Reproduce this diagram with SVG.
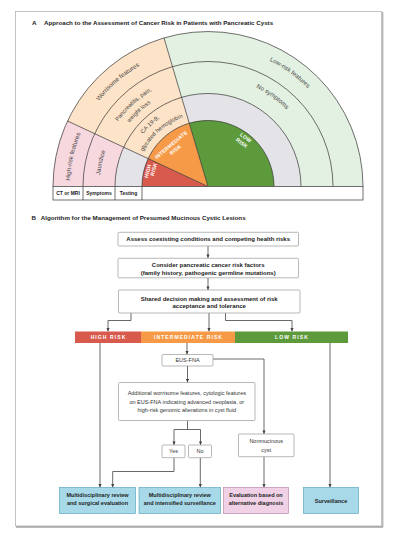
<svg xmlns="http://www.w3.org/2000/svg" width="402" height="540" viewBox="0 0 402 540">
<style>
text{font-family:"Liberation Sans",Arial,sans-serif;fill:#333}
.t{font-size:6.2px;font-weight:bold;fill:#222}
.ring{font-size:6.2px;fill:#444}
.ring2{font-size:5.8px;fill:#444}
.in{font-size:5.2px;font-weight:bold;fill:#fff;letter-spacing:0.2px}
.cell{font-size:5px;font-weight:bold;fill:#222}
.ln{fill:none;stroke:#333;stroke-width:0.7}
.bx{fill:#fff;stroke:#999;stroke-width:0.7}
.bb{font-size:6px;font-weight:bold;fill:#222}
.nb{font-size:5.5px;fill:#333}
.fb{font-size:5.5px;font-weight:bold;fill:#222}
.blue{fill:#a7d9e8;stroke:#5fa7bf;stroke-width:0.7}
.pink{fill:#f0d1e6;stroke:#b98aab;stroke-width:0.7}
.bar{font-size:5px;font-weight:bold;fill:#fff;letter-spacing:1.1px}
.c{fill:none;stroke:#444;stroke-width:0.8}
.ca{fill:none;stroke:#444;stroke-width:0.8;marker-end:url(#ah)}
</style>
<defs>
<marker id="ah" viewBox="0 0 6 6" refX="6" refY="3" markerWidth="3.6" markerHeight="3.6" orient="auto" markerUnits="userSpaceOnUse"><path d="M0,0.3 L6,3 L0,5.7 z" fill="#444"/></marker>
<path id="p-hr" d="M70,186.5 A138,138 0 0 1 82.93,128.18"/>
<path id="p-jd" d="M99.5,186.5 A108.5,108.5 0 0 1 109.67,140.65"/>
<path id="p-wf" d="M82.48,127.97 A138.5,138.5 0 0 1 168.67,53.70"/>
<path id="p-pp" d="M107.4,139.59 A111,111 0 0 1 176.48,80.07"/>
<path id="p-wl" d="M116.46,143.82 A101,101 0 0 1 179.32,89.66"/>
<path id="p-ca" d="M132.32,151.21 A83.5,83.5 0 0 1 184.29,106.44"/>
<path id="p-gh" d="M141.39,155.44 A73.5,73.5 0 0 1 187.13,116.03"/>
<path id="p-lr" d="M168.24,52.27 A140,140 0 0 1 348,186.5"/>
<path id="p-ns" d="M176.76,81.03 A110,110 0 0 1 318,186.5"/>
</defs>

<rect x="0" y="0" width="402" height="540" fill="#fff"/>
<g id="frame">
<rect x="15.5" y="11.5" width="366" height="514.5" fill="#fff" stroke="#b5b5b5" stroke-width="0.8"/>
<line x1="16" y1="527" x2="383" y2="527" stroke="#777" stroke-width="1.2"/>
<line x1="382.8" y1="12" x2="382.8" y2="527" stroke="#999" stroke-width="1"/>
</g>

<g id="titleA">
<text class="t" x="32" y="24.8">A</text>
<text class="t" x="44" y="24.8">Approach to the Assessment of Cancer Risk in Patients with Pancreatic Cysts</text>
</g>

<g id="chart">
<path d="M208,186.5 L53,186.5 A155,155 0 0 1 67.52,121 Z" fill="#f8d8df"/>
<path d="M208,186.5 L67.52,121 A155,155 0 0 1 163.98,37.89 Z" fill="#fde3c7"/>
<path d="M208,186.5 L163.98,37.89 A155,155 0 0 1 363,186.5 Z" fill="#e3f1e2"/>
<path d="M208,186.5 L115,186.5 A93,93 0 0 1 123.71,147.2 Z" fill="#e4e4e8"/>
<path d="M208,186.5 L181.59,97.33 A93,93 0 0 1 301,186.5 Z" fill="#e4e4e8"/>
<path d="M208,186.5 L142,186.5 A66,66 0 0 1 148.18,158.61 Z" fill="#d85a4c"/>
<path d="M208,186.5 L148.18,158.61 A66,66 0 0 1 189.26,123.22 Z" fill="#f69a47"/>
<path d="M208,186.5 L189.26,123.22 A66,66 0 0 1 274,186.5 Z" fill="#5c9a3b"/>
<path class="ln" d="M53,186.5 A155,155 0 0 1 363,186.5 M83,186.5 A125,125 0 0 1 333,186.5 M115,186.5 A93,93 0 0 1 301,186.5 M142,186.5 A66,66 0 0 1 274,186.5"/>
<path class="ln" d="M208,186.5 L67.52,121 M208,186.5 L163.98,37.89"/>
</g>

<g id="ring-labels">
<text class="ring"><textPath href="#p-hr" startOffset="50%" text-anchor="middle">High-risk features</textPath></text>
<text class="ring"><textPath href="#p-jd" startOffset="50%" text-anchor="middle">Jaundice</textPath></text>
<text class="ring"><textPath href="#p-wf" startOffset="50%" text-anchor="middle">Worrisome features</textPath></text>
<text class="ring2"><textPath href="#p-pp" startOffset="47%" text-anchor="middle">Pancreatitis, pain,</textPath></text>
<text class="ring2"><textPath href="#p-wl" startOffset="46%" text-anchor="middle">weight loss</textPath></text>
<text class="ring2"><textPath href="#p-ca" startOffset="45%" text-anchor="middle">CA 19-9,</textPath></text>
<text class="ring2"><textPath href="#p-gh" startOffset="50%" text-anchor="middle">glycated hemoglobin</textPath></text>
<text class="ring"><textPath href="#p-lr" startOffset="49%" text-anchor="middle">Low-risk features</textPath></text>
<text class="ring"><textPath href="#p-ns" startOffset="49%" text-anchor="middle">No symptoms</textPath></text>
</g>

<g id="risk-wedge-labels">
<text class="in" text-anchor="middle" transform="translate(149.6,171.5) rotate(-75)">HIGH</text>
<text class="in" text-anchor="middle" transform="translate(155.5,169.8) rotate(-75)">RISK</text>
<text class="in" text-anchor="middle" transform="translate(172.3,146.2) rotate(-40)">INTERMEDIATE</text>
<text class="in" text-anchor="middle" transform="translate(176.6,151.1) rotate(-40)">RISK</text>
<text class="in" text-anchor="middle" transform="translate(244.7,139.2) rotate(36)">LOW</text>
<text class="in" text-anchor="middle" transform="translate(240.9,144.5) rotate(36)">RISK</text>
</g>

<g id="table">
<rect x="53" y="186.5" width="310" height="13.5" fill="#fff" stroke="#333" stroke-width="0.7"/>
<path class="ln" d="M83,186.5 V200 M115,186.5 V200 M142,186.5 V200"/>
<text class="cell" x="68" y="195.3" text-anchor="middle">CT or MRI</text>
<text class="cell" x="99" y="195.3" text-anchor="middle">Symptoms</text>
<text class="cell" x="128.5" y="195.3" text-anchor="middle">Testing</text>
</g>

<g id="titleB">
<text class="t" x="31.5" y="220.2">B</text>
<text class="t" x="40.7" y="220.2">Algorithm for the Management of Presumed Mucinous Cystic Lesions</text>
</g>

<g id="connectors">
<path class="ca" d="M208,246 V258"/>
<path class="ca" d="M208,278 V290"/>
<path class="ca" d="M131,313 V320.5 H108 V331.5"/>
<path class="ca" d="M209,313 V331.5"/>
<path class="ca" d="M225.5,313 V320.5 H292 V331.5"/>
<path class="ca" d="M100,343 V487.5"/>
<path class="ca" d="M330,343 V487.5"/>
<path class="ca" d="M187,343 V354.5"/>
<path class="ca" d="M213,359 H264 V434"/>
<path class="ca" d="M187.5,366 V382.5"/>
<path class="c" d="M187.5,420.5 V429.5 M174,429.5 H200.5"/>
<path class="ca" d="M174,429.5 V445"/>
<path class="ca" d="M200.5,429.5 V445"/>
<path class="ca" d="M174,457.7 V471.5 H112.7 V487.5"/>
<path class="ca" d="M200.3,457.7 V487.5"/>
<path class="ca" d="M264,456.7 V487.5"/>
</g>

<g id="n-assess">
<rect class="bx" x="118" y="232.3" width="180.5" height="13.7" rx="1"/>
<text class="bb" x="208.2" y="241.2" text-anchor="middle">Assess coexisting conditions and competing health risks</text>
</g>
<g id="n-consider">
<rect class="bx" x="118" y="258.3" width="180.5" height="19.5" rx="1"/>
<text class="bb" x="208.2" y="267.2" text-anchor="middle">Consider pancreatic cancer risk factors</text>
<text class="bb" x="208.2" y="274.9" text-anchor="middle">(family history, pathogenic germline mutations)</text>
</g>
<g id="n-shared">
<rect class="bx" x="118.5" y="290" width="181.5" height="23" rx="1"/>
<text class="bb" x="209.2" y="300.5" text-anchor="middle">Shared decision making and assessment of risk</text>
<text class="bb" x="209.2" y="308.2" text-anchor="middle">acceptance and tolerance</text>
</g>

<g id="n-riskbar">
<rect x="75" y="331.5" width="66" height="11.5" fill="#d85a4c"/>
<rect x="141" y="331.5" width="94" height="11.5" fill="#f69a47"/>
<rect x="235" y="331.5" width="113" height="11.5" fill="#5c9a3b"/>
<text class="bar" x="108.5" y="339.2" text-anchor="middle">HIGH RISK</text>
<text class="bar" x="188.5" y="339.2" text-anchor="middle">INTERMEDIATE RISK</text>
<text class="bar" x="292" y="339.2" text-anchor="middle">LOW RISK</text>
</g>

<g id="n-eus">
<rect class="bx" x="162" y="354.5" width="51" height="11.5" rx="1"/>
<text class="nb" x="187.5" y="362.3" text-anchor="middle">EUS-FNA</text>
</g>
<g id="n-additional">
<rect class="bx" x="118.5" y="382.5" width="136.5" height="38" rx="1"/>
<text class="nb" x="186.8" y="395.3" text-anchor="middle">Additional worrisome features, cytologic features</text>
<text class="nb" x="186.8" y="403.6" text-anchor="middle">on EUS-FNA indicating advanced neoplasia, or</text>
<text class="nb" x="186.8" y="411.9" text-anchor="middle">high-risk genomic alterations in cyst fluid</text>
</g>
<g id="n-yes">
<rect class="bx" x="162" y="445" width="23" height="12.7" rx="1"/>
<text class="nb" x="173.5" y="453.3" text-anchor="middle">Yes</text>
</g>
<g id="n-no">
<rect class="bx" x="188.5" y="445" width="23" height="12.7" rx="1"/>
<text class="nb" x="200" y="453.3" text-anchor="middle">No</text>
</g>
<g id="n-nonmucinous">
<rect class="bx" x="238.5" y="434" width="55.5" height="22.7" rx="1"/>
<text class="nb" x="266.2" y="443.3" text-anchor="middle">Nonmucinous</text>
<text class="nb" x="266.2" y="451.8" text-anchor="middle">cyst</text>
</g>

<g id="n-surgical">
<rect class="blue" x="59.5" y="487.5" width="76" height="26"/>
<text class="fb" x="97.5" y="496.5" text-anchor="middle">Multidisciplinary review</text>
<text class="fb" x="97.5" y="505.4" text-anchor="middle">and surgical evaluation</text>
</g>
<g id="n-intensified">
<rect class="blue" x="139" y="487.5" width="81.5" height="26"/>
<text class="fb" x="179.8" y="496.5" text-anchor="middle">Multidisciplinary review</text>
<text class="fb" x="179.8" y="505.4" text-anchor="middle">and intensified surveillance</text>
</g>
<g id="n-alternative">
<rect class="pink" x="223.5" y="487.5" width="65" height="26"/>
<text class="fb" x="256" y="496.5" text-anchor="middle">Evaluation based on</text>
<text class="fb" x="256" y="505.4" text-anchor="middle">alternative diagnosis</text>
</g>
<g id="n-surveillance">
<rect class="blue" x="303.5" y="487.5" width="55" height="26"/>
<text class="fb" x="331" y="502.5" text-anchor="middle">Surveillance</text>
</g>
</svg>
